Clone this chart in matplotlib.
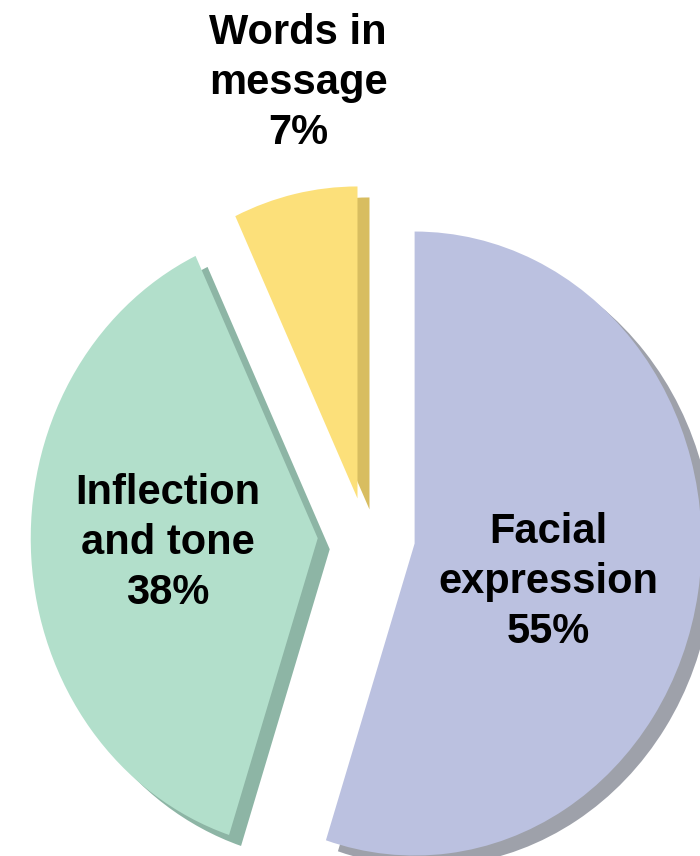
import matplotlib.pyplot as plt

# Pie data
categories = ['Facial\nexpression', 'Inflection\nand tone', 'Words in\nmessage']
shares = [55, 38, 7]
explode = [0.175, 0.165, 0.12]

face_colors = ['#BBC1E0', '#B2DFCB', '#FCE07A']
side_colors = ['#9EA1AA', '#8DB5A5', '#D8BD60']

W, H = 700, 856
cx, cy = 365, 535          # pie centre in pixels
rx, ry = 287, 312          # slightly tall ellipse
depth = (12, 11)           # extrusion offset in pixels (right, down)

fig = plt.figure(figsize=(W / 100, H / 100), dpi=100)
ax = fig.add_axes([0, 0, 1, 1])

# side faces first, then top faces
ax.pie(shares, explode=explode, colors=side_colors, startangle=90,
       counterclock=False, center=(depth[0] / rx, -depth[1] / ry),
       wedgeprops=dict(linewidth=0))
ax.pie(shares, explode=explode, colors=face_colors, startangle=90,
       counterclock=False, wedgeprops=dict(linewidth=0))

ax.set_aspect('auto')
ax.set_xlim(-cx / rx, (W - cx) / rx)
ax.set_ylim(-(H - cy) / ry, cy / ry)
ax.axis('off')

# label positions (figure pixels)
label_pos = [(548, 582), (168, 543), (298, 83)]
for name, val, (px, py) in zip(categories, shares, label_pos):
    fig.text(px / W, 1 - py / H, f'{name}\n{val}%', ha='center', va='center',
             fontsize=30, fontweight='bold', family='Liberation Sans',
             linespacing=1.32, color='black')

fig.savefig('out.png', dpi=100)
